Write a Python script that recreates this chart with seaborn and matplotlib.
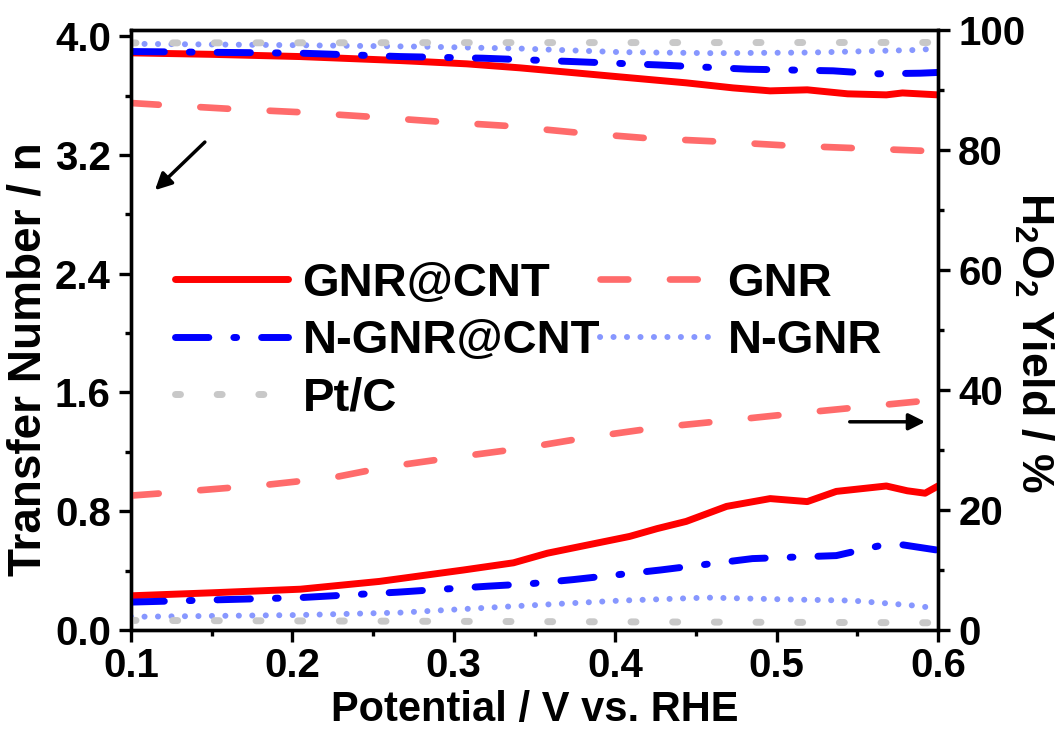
import numpy as np
import pandas as pd
import matplotlib
matplotlib.use("Agg")
import matplotlib.pyplot as plt
from matplotlib.ticker import MultipleLocator, FormatStrFormatter
import seaborn as sns

# ---- data ----
# upper curves: electron transfer number n (left axis)
x_gnr_cnt_n = [0.10, 0.15, 0.205, 0.267, 0.308, 0.341, 0.403, 0.444, 0.473, 0.496, 0.519, 0.544, 0.568, 0.578, 0.60]
n_gnr_cnt = [3.888, 3.878, 3.863, 3.836, 3.814, 3.787, 3.726, 3.686, 3.652, 3.632, 3.639, 3.612, 3.605, 3.618, 3.605]

x_gnr_n = [0.10, 0.118, 0.161, 0.205, 0.246, 0.290, 0.333, 0.376, 0.420, 0.463, 0.506, 0.549, 0.591, 0.60]
n_gnr = [3.55, 3.538, 3.511, 3.488, 3.459, 3.425, 3.396, 3.351, 3.313, 3.291, 3.264, 3.246, 3.228, 3.222]

x_ngnr_cnt_n = [0.10, 0.205, 0.267, 0.318, 0.372, 0.426, 0.482, 0.535, 0.563, 0.589, 0.60]
n_ngnr_cnt = [3.897, 3.886, 3.863, 3.852, 3.830, 3.807, 3.778, 3.767, 3.747, 3.751, 3.756]

x_ngnr_n = [0.10, 0.20, 0.28, 0.341, 0.403, 0.46, 0.52, 0.589, 0.60]
n_ngnr = [3.949, 3.94, 3.93, 3.917, 3.893, 3.886, 3.89, 3.908, 3.92]

x_ptc_n = [0.10, 0.35, 0.60]
n_ptc = [3.955, 3.957, 3.958]

# lower curves: H2O2 yield in % (right axis)
x_gnr_cnt_y = [0.10, 0.15, 0.205, 0.254, 0.306, 0.337, 0.358, 0.378, 0.409, 0.426, 0.444,
               0.469, 0.496, 0.519, 0.537, 0.568, 0.581, 0.592, 0.60]
y_gnr_cnt = [5.7, 6.2, 6.8, 8.1, 10.0, 11.2, 12.8, 13.9, 15.6, 16.9, 18.1,
             20.6, 21.9, 21.4, 23.1, 24.0, 23.2, 22.8, 24.0]

x_gnr_y = [0.10, 0.120, 0.184, 0.225, 0.259, 0.301, 0.343, 0.383, 0.428, 0.469, 0.512, 0.550, 0.592, 0.60]
y_gnr = [22.4, 22.8, 24.2, 25.4, 27.2, 28.8, 30.3, 32.1, 33.8, 34.9, 36.1, 37.1, 38.2, 38.3]

x_ngnr_cnt_y = [0.10, 0.205, 0.265, 0.321, 0.347, 0.374, 0.428, 0.485, 0.537, 0.563, 0.578, 0.60]
y_ngnr_cnt = [4.65, 5.4, 6.3, 7.3, 7.7, 8.4, 10.0, 11.9, 12.4, 14.0, 14.2, 13.3]

x_ngnr_y = [0.10, 0.205, 0.267, 0.333, 0.403, 0.457, 0.506, 0.547, 0.584, 0.60]
y_ngnr = [2.2, 2.5, 2.9, 3.9, 4.9, 5.4, 5.1, 4.9, 4.1, 3.6]

x_ptc_y = [0.10, 0.35, 0.60]
y_ptc = [1.6, 1.4, 1.2]

labels = ["GNR@CNT", "GNR", "N-GNR@CNT", "N-GNR", "Pt/C"]
colors = ["#ff0000", "#ff6b6b", "#0000ff", "#8797ff", "#c8c8c8"]

# ---- style ----
sns.set_style("ticks")
plt.rcParams["font.family"] = ["Liberation Sans", "DejaVu Sans"]
plt.rcParams["font.weight"] = "bold"
plt.rcParams["axes.labelweight"] = "bold"
plt.rcParams["text.color"] = "black"
plt.rcParams["axes.labelcolor"] = "black"
plt.rcParams["xtick.color"] = "black"
plt.rcParams["ytick.color"] = "black"
plt.rcParams["mathtext.fontset"] = "custom"
plt.rcParams["mathtext.rm"] = "Liberation Sans:bold"
plt.rcParams["mathtext.bf"] = "Liberation Sans:bold"
plt.rcParams["lines.scale_dashes"] = False

fig = plt.figure(figsize=(10.59, 7.35), dpi=100)
ax = fig.add_axes([131 / 1059, 105 / 735, 807 / 1059, 600 / 735])
ax2 = ax.twinx()

# line styles (dash patterns in points)
styles = {
    "GNR@CNT": dict(linestyle="-", linewidth=5),
    "GNR": dict(linestyle=(0, (20, 30)), linewidth=4.8),
    "N-GNR@CNT": dict(linestyle=(0, (24, 18, 2, 18)), linewidth=5),
    "N-GNR": dict(linestyle=(0, (0.1, 9.6)), linewidth=4.3),
    "Pt/C": dict(linestyle=(0, (3.6, 26.4)), linewidth=5),
}

upper = [(x_gnr_cnt_n, n_gnr_cnt), (x_gnr_n, n_gnr), (x_ngnr_cnt_n, n_ngnr_cnt),
         (x_ngnr_n, n_ngnr), (x_ptc_n, n_ptc)]
lower = [(x_gnr_cnt_y, y_gnr_cnt), (x_gnr_y, y_gnr), (x_ngnr_cnt_y, y_ngnr_cnt),
         (x_ngnr_y, y_ngnr), (x_ptc_y, y_ptc)]

handles = []
for lab, col, (xu, yu), (xl, yl) in zip(labels, colors, upper, lower):
    st = styles[lab]
    sns.lineplot(x=xu, y=yu, ax=ax, color=col, dash_capstyle="round",
                 solid_capstyle="round", solid_joinstyle="round", **st)
    handles.append(ax.lines[-1])
    sns.lineplot(x=xl, y=yl, ax=ax2, color=col, dash_capstyle="round",
                 solid_capstyle="round", solid_joinstyle="round", **st)

# ---- axes ----
ax.set_xlim(0.1, 0.6)
ax.set_ylim(0, 4.042)
ax2.set_ylim(0, 100)

ax.xaxis.set_major_locator(MultipleLocator(0.1))
ax.xaxis.set_minor_locator(MultipleLocator(0.05))
ax.xaxis.set_major_formatter(FormatStrFormatter("%.1f"))
ax.yaxis.set_major_locator(MultipleLocator(0.8))
ax.yaxis.set_minor_locator(MultipleLocator(0.4))
ax.yaxis.set_major_formatter(FormatStrFormatter("%.1f"))
ax2.yaxis.set_major_locator(MultipleLocator(20))
ax2.yaxis.set_minor_locator(MultipleLocator(10))

for a in (ax, ax2):
    for sp in a.spines.values():
        sp.set_linewidth(2.4)
        sp.set_color("black")
    a.tick_params(which="major", length=8.5, width=2.4, labelsize=29, pad=4, color="black",
                  labelcolor="black")
    a.tick_params(which="minor", length=4.5, width=2.4, color="black")
ax.tick_params(axis="x", which="both", top=False)
ax.tick_params(axis="y", which="both", right=False)
ax.tick_params(axis="y", which="major", pad=6)
ax2.tick_params(axis="y", which="both", left=False, right=True)
ax2.tick_params(axis="y", which="major", pad=6)

ax.set_xlabel("Potential / V vs. RHE", fontsize=30, labelpad=3)
ax.set_ylabel("Transfer Number / n", fontsize=33, va="center")
ax.yaxis.set_label_coords(-0.127, 0.452)
ax2.set_ylabel(r"H$_2$O$_2$ Yield / %", fontsize=32, rotation=270, va="center")
ax2.yaxis.set_label_coords(1.118, 0.48)

# arrows pointing to the matching axis
ax.annotate("", xy=(0.1136, 2.95), xytext=(0.147, 3.30),
            arrowprops=dict(arrowstyle="-|>", lw=2.5, color="black", mutation_scale=25))
ax2.annotate("", xy=(0.5938, 34.7), xytext=(0.5436, 34.7),
             arrowprops=dict(arrowstyle="-|>", lw=2.5, color="black", mutation_scale=25))

order = [0, 2, 4, 1, 3]
leg = ax2.legend([handles[i] for i in order], [labels[i] for i in order], ncol=2,
                 loc="upper left", bbox_to_anchor=(175 / 1059, 1 - 262 / 735),
                 bbox_transform=fig.transFigure, frameon=False, borderpad=0,
                 borderaxespad=0, handlelength=2.4, handletextpad=0.3,
                 columnspacing=0.0, labelspacing=0.28, fontsize=34)

fig.savefig("out.png", dpi=100)
